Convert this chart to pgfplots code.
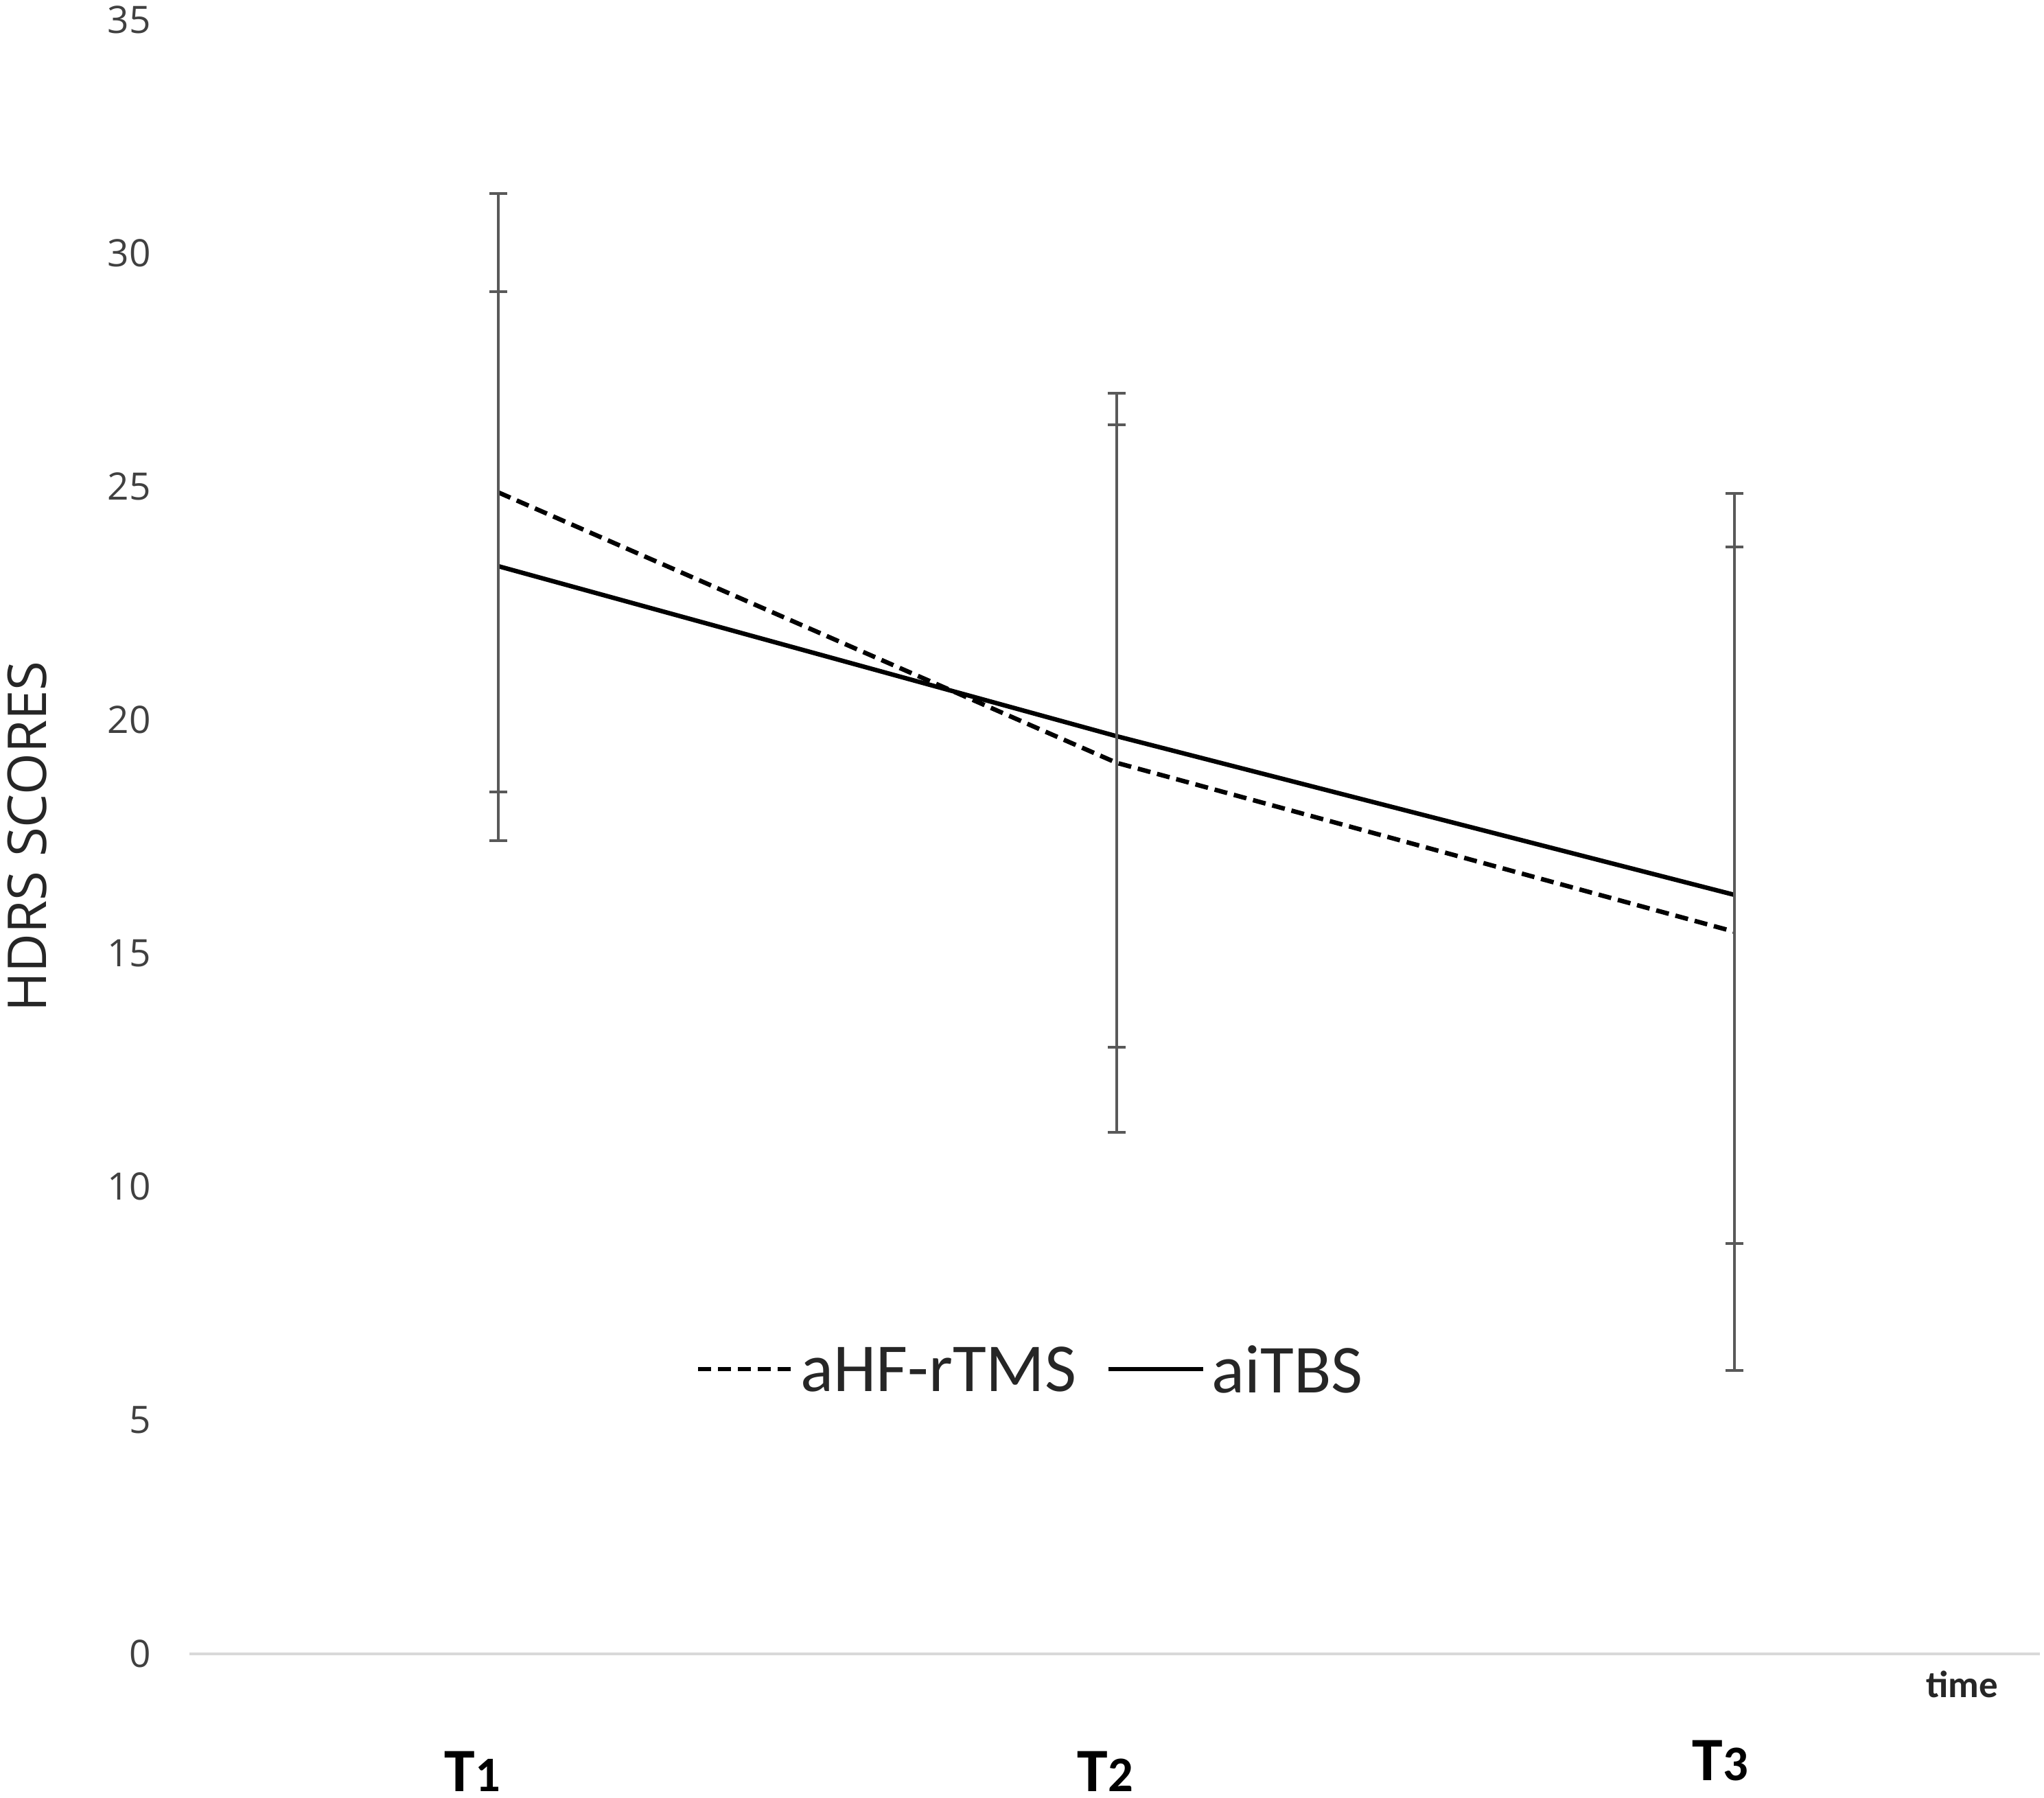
\documentclass[border=0pt]{standalone}
\usepackage{fontspec}
\usepackage{pgfplots}
\pgfplotsset{compat=1.18}
\setmainfont{Open Sans}
\newfontfamily\opensans{Open Sans}
\newfontfamily\carlito{Carlito}
\definecolor{barcol}{HTML}{595959}
\definecolor{axcol}{HTML}{D9D9D9}
\definecolor{txt}{HTML}{404040}
\definecolor{lab}{HTML}{262626}
\begin{document}
\begin{tikzpicture}
\begin{axis}[
  name=ax,
  at={(0,0)}, anchor=south west,
  scale only axis,
  width=539.2pt, height=476.2pt,
  xmin=0.5, xmax=3.494,
  ymin=0, ymax=35,
  clip=false,
  axis x line*=bottom, axis y line*=left,
  x axis line style={draw=axcol, line width=0.8pt, -},
  y axis line style={draw=none},
  major tick length=0pt,
  ytick={0,5,...,35},
  /pgf/number format/assume math mode=true,
  yticklabel style={font=\opensans\fontsize{11pt}{13pt}\selectfont, text=txt, anchor=east, inner sep=0pt, xshift=-11.1pt},
  xtick={0.958,1.982,2.977},
  xticklabels={%
    {\carlito\bfseries\fontsize{18pt}{20pt}\selectfont T\fontsize{14.5pt}{16pt}\selectfont 1},
    {\carlito\bfseries\fontsize{18pt}{20pt}\selectfont T\fontsize{14.5pt}{16pt}\selectfont 2},
    {\raisebox{3.2pt}{\carlito\bfseries\fontsize{18pt}{20pt}\selectfont T\fontsize{14.5pt}{16pt}\selectfont 3}}},
  xticklabel style={anchor=base, inner sep=0pt, yshift=-40.2pt, text=black},
  legend columns=2,
  legend style={
    at={(0.2734,0.1724)}, anchor=west,
    draw=none, fill=none, inner sep=0pt,
    nodes={inner sep=0pt, font=\carlito\fontsize{20pt}{24pt}\selectfont, text=lab},
    /tikz/column 1/.style={column sep=1.6pt},
    /tikz/column 2/.style={column sep=8.6pt},
    /tikz/column 3/.style={column sep=2.0pt},
  },
  legend image code/.code={\draw[#1] (0pt,0.8pt) -- (27.6pt,0.8pt);},
]
\addplot[black, line width=1.3pt, dash pattern=on 3.8pt off 2pt, line cap=butt,
  error bars/.cd, y dir=both, y explicit,
  error bar style={color=barcol, line width=0.8pt, solid},
  error mark options={color=barcol, line width=0.8pt, mark size=2.6pt, solid, rotate=90}]
  coordinates {(1,24.87) +- (0,6.41) (2,19.08) +- (0,7.92) (3,15.46) +- (0,9.39)};
\addlegendentry{aHF-rTMS}
\addplot[black, line width=1.3pt, solid,
  error bars/.cd, y dir=both, y explicit,
  error bar style={color=barcol, line width=0.8pt, solid},
  error mark options={color=barcol, line width=0.8pt, mark size=2.6pt, solid, rotate=90}]
  coordinates {(1,23.29) +- (0,5.88) (2,19.65) +- (0,6.67) (3,16.25) +- (0,7.46)};
\addlegendentry{aiTBS}
\node[anchor=base, inner sep=0pt, text=lab, font=\carlito\bfseries\fontsize{11pt}{13pt}\selectfont] at ([yshift=-12.7pt]axis cs:3.368,0) {time};
\node[rotate=90, anchor=center, inner sep=0pt, text=lab, font=\opensans\fontsize{15.6pt}{18pt}\selectfont] at ([xshift=-47.2pt]axis description cs:0,0.5) {HDRS SCORES};
\end{axis}
\pgfresetboundingbox
\path[use as bounding box] ([xshift=-55.2pt,yshift=-41.9pt]ax.south west) rectangle ++(595.6pt,523.8pt);
\end{tikzpicture}
\end{document}
